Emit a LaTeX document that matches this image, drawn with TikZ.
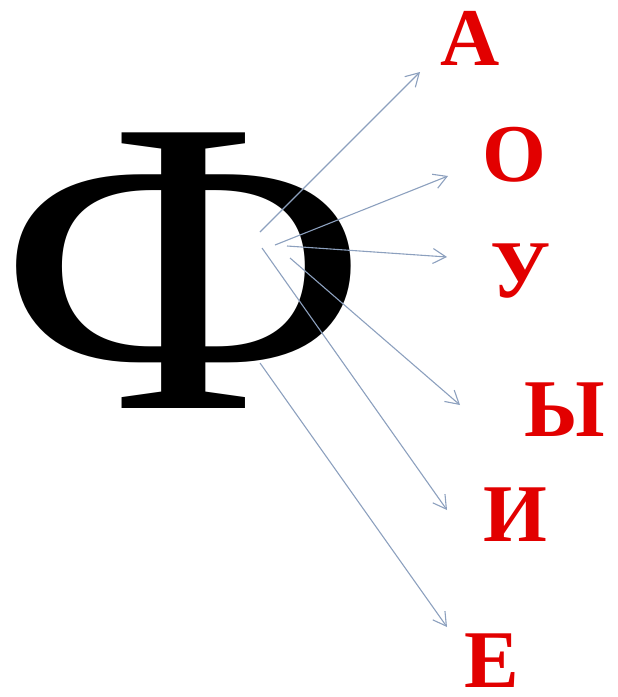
\documentclass[tikz,border=0pt]{standalone}
\usepackage{fontspec}
\setmainfont{Liberation Serif}
\usepackage{xcolor}
\usetikzlibrary{arrows.meta}
\definecolor{vowred}{RGB}{226,0,0}
\definecolor{arrblue}{RGB}{140,160,190}

\begin{document}
\begin{tikzpicture}[
    x=1pt, y=-1pt,
    bigletter/.style={inner sep=0pt, anchor=base,
                 font=\fontsize{421}{421}\selectfont, text=black},
    vowel/.style={inner sep=0pt, anchor=base,
                 font=\fontsize{82}{82}\selectfont\bfseries, text=vowred},
    arr/.style={-{Straight Barb[length=13pt,width=15pt]}, line width=1.1pt, arrblue},
  ]
  \useasboundingbox (0,0) rectangle (618,697);

  % Bukva F
  \node[bigletter] (phi) at (184,408) {\scalebox{1.12}[1]{\kern-20pt Ф\kern-20pt}};

  % Glasnye
  \node[vowel] (a) at (470,65) {А};
  \node[vowel] (o) at (514,181) {О};
  \node[vowel] (u) at (521,297) {У};
  \node[vowel] (y) at (565,436) {Ы};
  \node[vowel] (i) at (515,541) {И};
  \node[vowel] (e) at (492,687) {Е};

  % Nachala i koncy strelok
  \coordinate (a-from) at (260,232);  \coordinate (a-to) at (420,72);
  \coordinate (o-from) at (275,245);  \coordinate (o-to) at (448,176);
  \coordinate (u-from) at (287,246);  \coordinate (u-to) at (447,257);
  \coordinate (y-from) at (290,258);  \coordinate (y-to) at (460,405);
  \coordinate (i-from) at (262,248);  \coordinate (i-to) at (447,510);
  \coordinate (e-from) at (260,363);  \coordinate (e-to) at (447,627);

  \foreach \v in {a,o,u,y,i,e}
    \draw[arr] (\v-from) -- (\v-to);
\end{tikzpicture}
\end{document}
